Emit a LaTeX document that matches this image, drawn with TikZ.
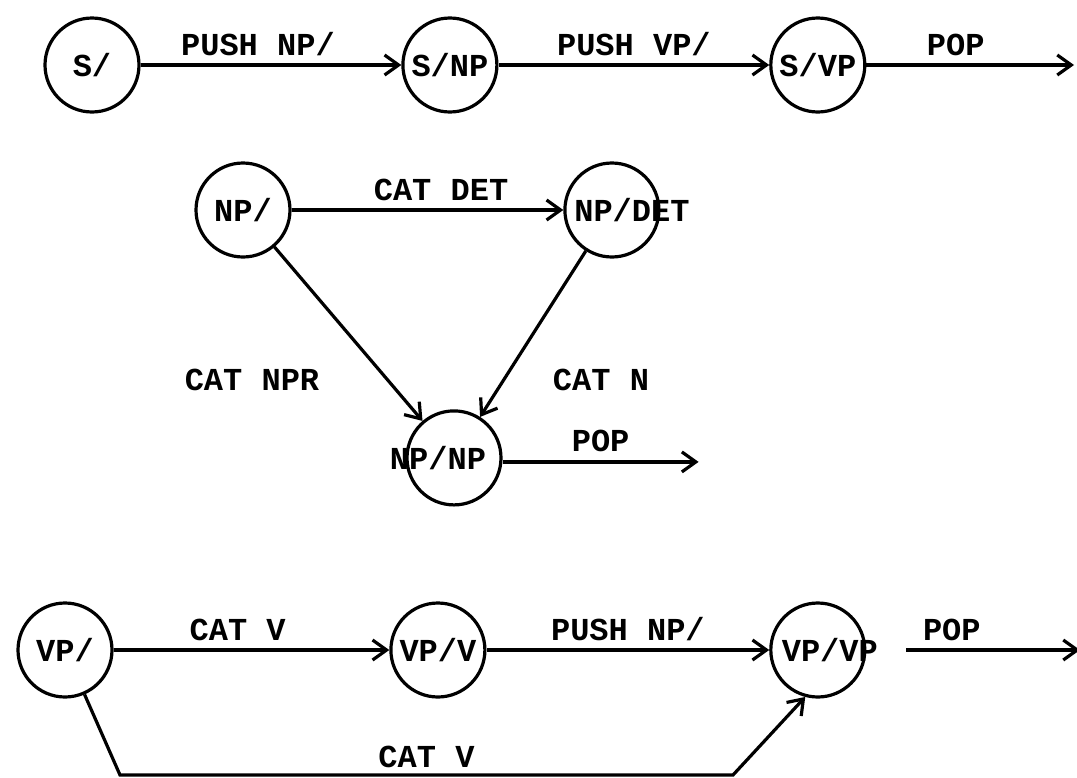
\documentclass[tikz,border=0pt]{standalone}
\usepackage{fontspec}
\setmonofont{Liberation Mono}
\usepackage{tikz}
\usetikzlibrary{calc,arrows.meta}
\tikzstyle{state} = [circle, draw, line width=1.6pt, minimum size=47pt, inner sep=0pt, text centered]
\tikzstyle{transition} = [line width=1.6pt, -{Straight Barb[length=7pt,width=10pt,line width=1.6pt]}]
\tikzstyle{lbl} = [inner sep=1pt]

\begin{document}
\begin{tikzpicture}[font=\ttfamily\bfseries\fontsize{16}{19}\selectfont]
        \useasboundingbox (0pt,0pt) rectangle (538.5pt,-388.5pt);
        % S network
        \node (s) [state] at (46pt,-32.5pt) {S/};
        \node (snp) [state, right of = s, xshift=150.5pt] {S/NP};
        \node (svp) [state, right of = snp, xshift=155.5pt] {S/VP};
        \coordinate (sout) at (537pt,-32.5pt);
        % NP network
        \node (np) [state] at (121.5pt,-105pt) {NP/};
        \node (npdet) [state, right of = np, xshift=156pt] {\makebox[0pt]{\hspace{20pt}NP/DET}};
        \node (npnp) [state, below of = np, yshift=-95.5pt, xshift=105.5pt] {\makebox[0pt]{NP/NP\hspace{16pt}}};
        \coordinate (npout) at ($(npnp.east)+(98pt,-2pt)$);
        \node (catnpr) [lbl] at (126pt,-190pt) {CAT NPR};
        \node (catn) [lbl] at (300.5pt,-190pt) {CAT N};
        % VP network
        \node (vp) [state] at (32.5pt,-325pt) {VP/};
        \node (vpv) [state, right of = vp, xshift=158pt] {VP/V};
        \node (vpvp) [state, right of = vpv, xshift=161.5pt] {\makebox[0pt]{\hspace{12pt}VP/VP}};
        \coordinate (vpout) at (540pt,-325pt);
        \coordinate (lowl) at (60pt,-387.5pt);
        \coordinate (lowr) at (366.5pt,-387.5pt);
        \draw [transition] (s) -- node[lbl, above=3pt, pos=0.45] (pushnp) {PUSH NP/} (snp);
        \draw [transition] (snp) -- node[lbl, above=3pt] (pushvp) {PUSH VP/} (svp);
        \draw [transition] (svp) -- node[lbl, above=3pt, pos=0.43] (pops) {POP} (sout);
        \draw [transition] (np) -- node[lbl, above=3pt, pos=0.55] (catdet) {CAT DET} (npdet);
        \draw [transition] (np) -- (npnp);
        \draw [transition] (npdet) -- (npnp);
        \draw [transition] (npnp.east |- npout) -- node[lbl, above=3pt] (popnp) {POP} (npout);
        \draw [transition] (vp) -- node[lbl, above=3pt, pos=0.45] (catv) {CAT V} (vpv);
        \draw [transition] (vpv) -- node[lbl, above=3pt] (pushnp2) {PUSH NP/} (vpvp);
        \draw [transition, shorten <=20pt] (vpvp) -- node[lbl, above=3pt, pos=0.4] (popvp) {POP} (vpout);
        \draw [transition] (vp) -- (lowl) -- node[lbl, above=2pt] (catv2) {CAT V} (lowr) -- (vpvp.255);
    \end{tikzpicture}
\end{document}
